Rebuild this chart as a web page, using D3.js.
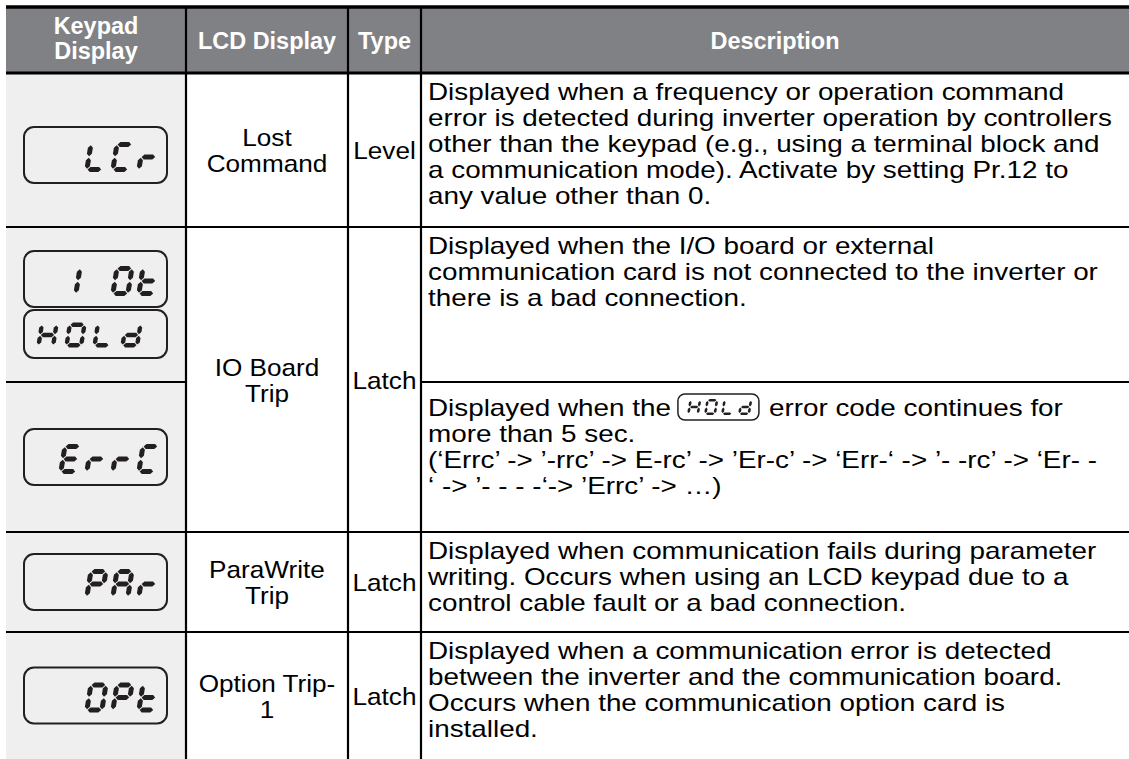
<!DOCTYPE html>
<html><head><meta charset="utf-8">
<script src="https://cdn.jsdelivr.net/npm/d3@7"></script>
<style>body{margin:0;background:#fff}svg{display:block}</style>
</head><body>
<svg id="c" width="1129" height="759"></svg>
<script>
// ---------------- data ----------------
const headers = [["Keypad", "Display"], ["LCD Display"], ["Type"], ["Description"]];
// 7-segment keypad codes (4 digit slots), per sub-row
const keypadCodes = [[" LCr"], ["1 0t", "HOLd"], ["ErrC"], [" PAr"], [" OPt"]];
const lcdNames = [["Lost", "Command"], ["IO Board", "Trip"], ["ParaWrite", "Trip"], ["Option Trip-", "1"]];
const lcdRowSpan = [1, 2, 1, 1];
const types = ["Level", "Latch", "Latch", "Latch"];
const descriptions = [
  ["Displayed when a frequency or operation command",
   "error is detected during inverter operation by controllers",
   "other than the keypad (e.g., using a terminal block and",
   "a communication mode). Activate by setting Pr.12 to",
   "any value other than 0."],
  ["Displayed when the I/O board or external",
   "communication card is not connected to the inverter or",
   "there is a bad connection."],
  ["Displayed when the [HOLd] error code continues for",
   "more than 5 sec.",
   "(\u2018Errc\u2019 -> \u2019-rrc\u2019 -> E-rc\u2019 -> \u2019Er-c\u2019 -> \u2018Err-\u2018 -> \u2019- -rc\u2019 -> \u2018Er- -",
   "\u2018 -> \u2019- - - -\u2018-> \u2019Errc\u2019 -> \u2026)"],
  ["Displayed when communication fails during parameter",
   "writing. Occurs when using an LCD keypad due to a",
   "control cable fault or a bad connection."],
  ["Displayed when a communication error is detected",
   "between the inverter and the communication board.",
   "Occurs when the communication option card is",
   "installed."]
];
const segMap = {"0":"abcdef","1":"bc","L":"def","C":"adef","r":"eg","t":"defg","H":"bcefg",
  "O":"abcdef","d":"bcdeg","E":"adefg","P":"abefg","A":"abcefg"," ":""};

// ---------------- layout ----------------
const W = 1129, H = 759;
const colX = [6, 186, 348, 421, 1129];
const headTop = 7, headBot = 73;
const rowEdges = [73, 227, 382, 532, 632, 759];
const boxShift = [5, 0, 0, 0, 0];
const FONT = "'Liberation Sans', Arial, Helvetica, sans-serif";
const INK = "#231f20";

const svg = d3.select("#c");
const colScale = d3.scaleOrdinal().domain(d3.range(4)).range(colX.slice(0, 4));
const colW = i => colX[i + 1] - colX[i];
const rowY = d3.scaleOrdinal().domain(d3.range(6)).range(rowEdges);

function txt(g, x, y, s, sx) {
  return g.append("text").attr("transform", `translate(${x},${y}) scale(${sx},1)`).text(s);
}

// backgrounds
svg.append("rect").attr("x", colX[0]).attr("y", headTop).attr("width", W - colX[0]).attr("height", headBot - headTop).attr("fill", "#808184");
svg.append("rect").attr("x", colX[0]).attr("y", headBot).attr("width", colX[1] - colX[0]).attr("height", H - headBot).attr("fill", "#efefef");

// header text
const hg = svg.append("g").attr("font-family", FONT).attr("font-weight", "bold").attr("font-size", 23).attr("fill", "#fff").attr("text-anchor", "middle");
headers.forEach((lines, i) => {
  const cx = colScale(i) + colW(i) / 2;
  const base = lines.length === 1 ? [49] : [34, 59];
  lines.forEach((t, k) => txt(hg, cx, base[k], t, 1.02));
});

// seven segment drawing
function segPolys(w, h, T, G) {
  const s = T / 2;
  const hor = (y, x0, x1) => [[x0, y], [x0 + s, y - s], [x1 - s, y - s], [x1, y], [x1 - s, y + s], [x0 + s, y + s]];
  const ver = (x, y0, y1) => [[x, y0], [x + s, y0 + s], [x + s, y1 - s], [x, y1], [x - s, y1 - s], [x - s, y0 + s]];
  const L = s, R = w - s, Tp = s, M = h / 2, B = h - s;
  return {
    a: hor(Tp, L + G, R - G), b: ver(R, Tp + G, M - G), c: ver(R, M + G, B - G),
    d: hor(B, L + G, R - G), e: ver(L, M + G, B - G), f: ver(L, Tp + G, M - G), g: hor(M, L + G, R - G)
  };
}
function drawDigits(g, code, x0, y0, pitch, dw, dh, T, Gp, slant) {
  const polys = segPolys(dw, dh, T, Gp);
  const line = d3.line();
  code.split("").forEach((ch, i) => {
    const segs = (segMap[ch] || "").split("").filter(c => c);
    g.selectAll(null).data(segs).enter().append("path")
      .attr("d", s => line(polys[s].map(([px, py]) => [x0 + i * pitch + px + (dh - py) * slant, y0 + py])) + "Z")
      .attr("fill", INK);
  });
}
function keypadBox(g, code, x, y, w, h, o) {
  g.append("rect").attr("x", x).attr("y", y).attr("width", w).attr("height", h).attr("rx", o.rx).attr("ry", o.rx)
    .attr("fill", "none").attr("stroke", INK).attr("stroke-width", o.sw);
  drawDigits(g, code, x + o.dx, y + (h - o.dh) / 2 + (o.dy || 0), o.pitch, o.dw, o.dh, o.T, o.G, 0.16);
}

// keypad column
const kg = svg.append("g");
const bigBox = {rx: 10, sw: 2, dx: 34, dy: 2, pitch: 26, dw: 20, dh: 30, T: 5, G: 0.7};
keypadCodes.forEach((codes, i) => {
  const top = rowY(i), bot = rowY(i + 1), cy = (top + bot) / 2;
  if (codes.length === 1) {
    keypadBox(kg, codes[0], 24, cy - 28 + boxShift[i], 143, 56, bigBox);
  } else {
    keypadBox(kg, codes[0], 24, 251, 143, 56, bigBox);
    keypadBox(kg, codes[1], 24, 310, 143, 48, {rx: 10, sw: 2, dx: 12, dy: 1, pitch: 28, dw: 19, dh: 25, T: 4.4, G: 0.7});
  }
});

// LCD display / type columns
const tg = svg.append("g").attr("font-family", FONT).attr("font-size", 24).attr("fill", "#000").attr("text-anchor", "middle");
let r = 0;
lcdNames.forEach((lines, i) => {
  const top = rowY(r), bot = rowY(r + lcdRowSpan[i]), cy = (top + bot) / 2;
  r += lcdRowSpan[i];
  lines.forEach((t, k) => txt(tg, colScale(1) + colW(1) / 2, cy - 4 + k * 26, t, 1.09));
  txt(tg, colScale(2) + colW(2) / 2, cy + 9, types[i], 1.09);
});

// description column
const DSX = 1.16;
const dg = svg.append("g").attr("font-family", FONT).attr("font-size", 24).attr("fill", "#000");
const dx = colX[3] + 7;
descriptions.forEach((lines, i) => {
  const top = rowY(i);
  const hasBox = lines[0].includes("[");
  const first = top + 27 + (hasBox ? 7 : 0);
  lines.forEach((t, k) => {
    const y = first + k * 26;
    const m = t.match(/^(.*)\[(\w+)\](.*)$/);
    if (!m) { txt(dg, dx, y, t, DSX); return; }
    const t1 = txt(dg, dx, y, m[1].trimEnd(), DSX);
    const wpre = t1.node().getComputedTextLength() * DSX;
    const bx = dx + wpre + 7, bw = 81, bh = 26;
    keypadBox(dg, m[2], bx, y - 22, bw, bh, {rx: 7, sw: 1.5, dx: 9, dy: 0, pitch: 17, dw: 12, dh: 16, T: 2.6, G: 0.6});
    txt(dg, bx + bw + 10, y, m[3].trimStart(), DSX);
  });
});

// grid lines
const lg = svg.append("g").attr("stroke", "#000");
lg.append("line").attr("x1", colX[0]).attr("x2", W).attr("y1", headTop).attr("y2", headTop).attr("stroke-width", 3.5);
lg.append("line").attr("x1", colX[0]).attr("x2", W).attr("y1", headBot).attr("y2", headBot).attr("stroke-width", 3);
[1, 2, 3].forEach(c => lg.append("line").attr("x1", colX[c]).attr("x2", colX[c]).attr("y1", headTop).attr("y2", H).attr("stroke-width", 2.2));
rowEdges.slice(1, 5).forEach((y, i) => {
  const rowIdx = i + 1;
  if (rowIdx === 2) {
    lg.append("line").attr("x1", colX[0]).attr("x2", colX[1]).attr("y1", y).attr("y2", y).attr("stroke-width", 2.2);
    lg.append("line").attr("x1", colX[3]).attr("x2", W).attr("y1", y).attr("y2", y).attr("stroke-width", 2.2);
  } else {
    lg.append("line").attr("x1", colX[0]).attr("x2", W).attr("y1", y).attr("y2", y).attr("stroke-width", 2.2);
  }
});
</script>
</body></html>
